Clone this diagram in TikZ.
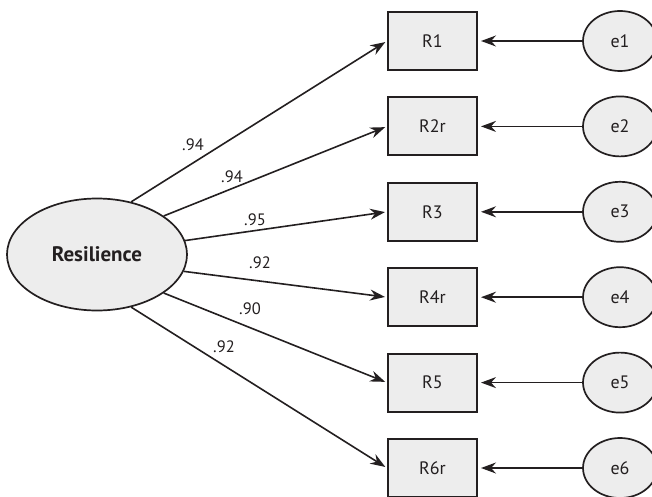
\documentclass[tikz,border=0pt]{standalone}
\usepackage{fontspec}
\setmainfont{PT Sans}
\usetikzlibrary{arrows.meta,shapes.geometric}
\definecolor{ink}{HTML}{231F20}
\definecolor{boxfill}{HTML}{EDEDED}
\begin{document}
\begin{tikzpicture}[x=1pt,y=-1pt,
  obs/.style={draw=ink,fill=boxfill,line width=2pt,minimum width=89pt,minimum height=58pt,inner sep=0pt,font=\fontsize{18}{21}\selectfont,text=ink},
  err/.style={ellipse,draw=ink,fill=boxfill,line width=1.7pt,minimum width=74pt,minimum height=60pt,inner sep=0pt,font=\fontsize{18}{21}\selectfont,text=ink},
  lat/.style={ellipse,draw=ink,fill=boxfill,line width=1.7pt,minimum width=180pt,minimum height=112pt,inner sep=0pt,font=\bfseries\fontsize{21}{25}\selectfont,text=ink},
  path/.style={draw=ink,line width=1.6pt,-{Stealth[length=15pt,width=11pt,inset=5pt]},shorten >=2pt},
  coef/.style={font=\fontsize{16.5}{19}\selectfont,text=ink,inner sep=0pt}]
\useasboundingbox (0,0) rectangle (652,497);
\node[lat] (res) at (97,254.5) {Resilience};
\foreach \i/\name/\y in {1/R1/41,2/R2r/126.4,3/R3/211.8,4/R4r/297.2,5/R5/382.6,6/R6r/468}{
  \node[obs] (r\i) at (432.5,\y) {\name};
  \node[err] (e\i) at (620,\y) {e\i};
  \draw[path,shorten >=3pt] (e\i.west) -- (r\i.east);
}
\draw[path] (res.57) -- (r1.west);
\draw[path] (res.30) -- (r2.west);
\draw[path] (res.9) -- (r3.west);
\draw[path] (res.-11) -- (r4.west);
\draw[path] (res.-30) -- (r5.west);
\draw[path] (res.-57) -- (r6.west);
\node[coef] (c1) at (193,145) {.94};
\node[coef] (c2) at (232,177) {.94};
\node[coef] (c3) at (255,220) {.95};
\node[coef] (c4) at (260,263) {.92};
\node[coef] (c5) at (250,309) {.90};
\node[coef] (c6) at (224,347) {.92};
\end{tikzpicture}
\end{document}
